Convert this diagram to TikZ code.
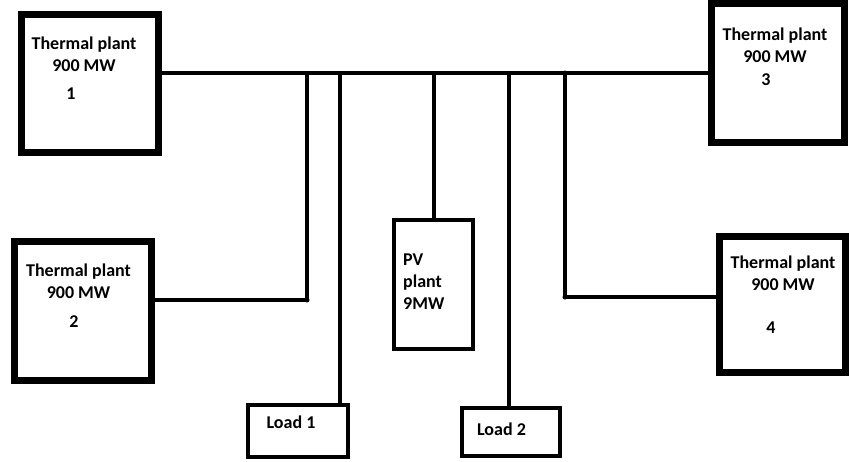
\documentclass[tikz,border=0pt]{standalone}
\usepackage{fontspec}
\setmainfont{Carlito}
\usetikzlibrary{positioning}

\begin{document}
\begin{tikzpicture}[x=1pt, y=-1pt,
    every node/.style={font=\fontsize{18}{22}\selectfont\bfseries},
    plant/.style={rectangle, draw=black, line width=7pt, inner sep=0pt},
    smallbox/.style={rectangle, draw=black, line width=4pt, inner sep=0pt},
    lab/.style={inner sep=0pt, align=center},
    bus/.style={line width=4pt},
    wire/.style={line width=3.5pt},
    dot/.style={circle, fill=black, inner sep=0pt, minimum size=5pt}
]
\useasboundingbox (0,0) rectangle (849,461);

% Generating plants
\node[plant, minimum width=137pt, minimum height=138pt] (t1) at (89.5,83)  {};
\node[plant, minimum width=133pt, minimum height=139pt] (t3) at (778,73)   {};
\node[plant, minimum width=137pt, minimum height=139pt] (t2) at (83,311)   {};
\node[plant, minimum width=126pt, minimum height=136pt] (t4) at (782.5,304.5) {};
\node[smallbox, minimum width=79pt, minimum height=129pt] (pv) at (433.5,284.5) {};

% Loads
\node[smallbox, minimum width=100pt, minimum height=52pt] (l1) at (298,431) {};
\node[smallbox, minimum width=98pt, minimum height=48pt]  (l2) at (511,432) {};

% Box texts
\node[lab] (t1txt) at (84,54)    {Thermal plant\\900 MW};
\node[lab] (t1num) at (71,94)    {1};
\node[lab] (t3txt) at (775,45)   {Thermal plant\\900 MW};
\node[lab] (t3num) at (766,80)   {3};
\node[lab] (t2txt) at (78.5,281.5) {Thermal plant\\900 MW};
\node[lab] (t2num) at (74,322)   {2};
\node[lab] (t4txt) at (783,273.5) {Thermal plant\\900 MW};
\node[lab] (t4num) at (771,328)  {4};
\node[lab, align=left, anchor=west] (pvtxt) at (403,282) {PV\\plant\\9MW};
\node[lab] (l1txt) at (291,422)  {Load 1};
\node[lab] (l2txt) at (501.5,429) {Load 2};

% Bus and junctions
\draw[bus] (t1.east |- t3.west) -- (t3.west);
\coordinate (j2)  at (307,73);
\coordinate (jl1) at (340,73);
\coordinate (jpv) at (434,73);
\coordinate (jl2) at (509,73);
\coordinate (j4)  at (565,73);

% Feeders
\draw[wire] (j2) |- ([yshift=11pt]t2.east) coordinate[pos=0.5] (k2);
\draw[wire] (j4) |- ([yshift=7.5pt]t4.west) coordinate[pos=0.5] (k4);
\draw[wire] (jpv) -- (jpv |- pv.north);
\draw[wire] (jl1) -- (jl1 |- l1.north);
\draw[wire] (jl2) -- (jl2 |- l2.north);
\node[dot] (d2) at (k2) {};
\node[dot] (d4) at (k4) {};
\node[dot] (dj4) at (j4) {};
\end{tikzpicture}
\end{document}
